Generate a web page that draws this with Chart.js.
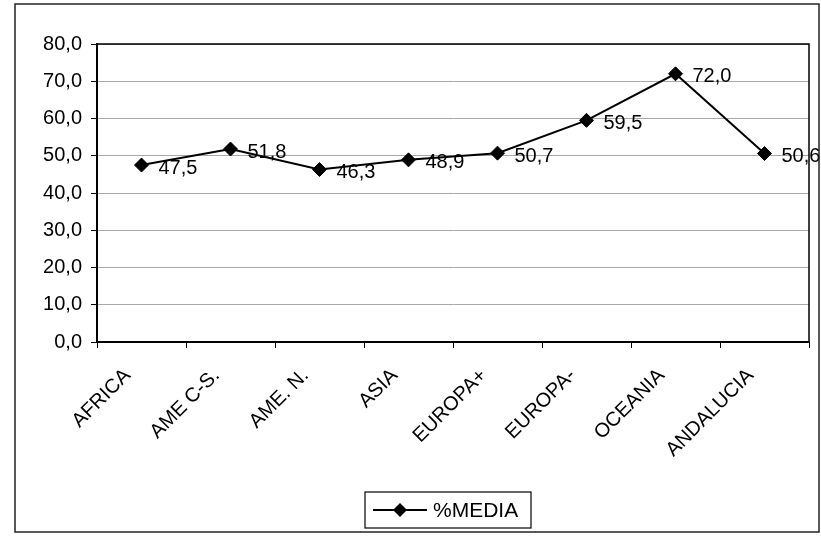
<!DOCTYPE html>
<html>
<head>
<meta charset="utf-8">
<script src="https://cdn.jsdelivr.net/npm/chart.js@4.4.0/dist/chart.umd.min.js"></script>
<style>
  html, body { margin: 0; padding: 0; background: #fff; }
  #wrap { width: 821px; height: 537px; }
</style>
</head>
<body>
<div id="wrap"><canvas id="chart" width="821" height="537"></canvas></div>
<script>
const categories = ["AFRICA", "AME C-S.", "AME. N.", "ASIA", "EUROPA+", "EUROPA-", "OCEANIA", "ANDALUCIA"];
const mediaValues = [47.5, 51.8, 46.3, 48.9, 50.7, 59.5, 72.0, 50.6];
const seriesLabel = "%MEDIA";
const yMin = 0, yMax = 80, yStep = 10;

const fmt = v => Number(v).toFixed(1).replace(".", ",");

// diamond marker, same shape for points and legend
function diamond(ctx, x, y, r) {
    ctx.beginPath();
    ctx.moveTo(x - r, y);
    ctx.lineTo(x, y - r);
    ctx.lineTo(x + r, y);
    ctx.lineTo(x, y + r);
    ctx.closePath();
    ctx.fill();
}

const framePlugin = {
    id: "frame",
    afterDraw(chart) {
        const ctx = chart.ctx;
        const a = chart.chartArea;
        ctx.save();

        // plot area box
        ctx.strokeStyle = "#000";
        ctx.lineWidth = 1.5;
        ctx.strokeRect(a.left, a.top, a.right - a.left, a.bottom - a.top);

        // value labels to the right of each point
        const meta = chart.getDatasetMeta(0);
        ctx.font = "20px Arial";
        ctx.fillStyle = "#000";
        ctx.textAlign = "left";
        ctx.textBaseline = "middle";
        meta.data.forEach((pt, i) => {
            ctx.fillText(fmt(mediaValues[i]), pt.x + 17, pt.y + 3);
        });

        // legend box
        const lx = 365, ly = 492, lw = 166, lh = 36;
        ctx.lineWidth = 1.2;
        ctx.strokeRect(lx, ly, lw, lh);
        const cy = ly + lh / 2;
        ctx.lineWidth = 2;
        ctx.beginPath();
        ctx.moveTo(lx + 8, cy);
        ctx.lineTo(lx + 62, cy);
        ctx.stroke();
        diamond(ctx, lx + 35, cy, 7);
        ctx.font = "21px Arial";
        ctx.fillText(chart.data.datasets[0].label, lx + 68, cy + 1);

        // outer chart frame
        ctx.lineWidth = 1.5;
        ctx.strokeStyle = "#222";
        ctx.strokeRect(15, 4, 804, 528);
        ctx.restore();
    }
};

new Chart(document.getElementById("chart").getContext("2d"), {
    type: "line",
    data: {
        labels: categories,
        datasets: [{
            label: seriesLabel,
            data: mediaValues,
            borderColor: "#000",
            borderWidth: 2,
            backgroundColor: "#000",
            pointStyle: "rectRot",
            pointRadius: 7,
            pointBorderWidth: 1,
            pointBorderColor: "#000",
            pointBackgroundColor: "#000",
            tension: 0,
            fill: false
        }]
    },
    options: {
        responsive: false,
        animation: false,
        devicePixelRatio: 1,
        layout: { padding: { top: 44, right: 12, left: 0, bottom: 65 } },
        plugins: {
            legend: { display: false },
            tooltip: { enabled: false }
        },
        scales: {
            x: {
                offset: true,
                grid: {
                    offset: true,
                    drawOnChartArea: false,
                    drawTicks: true,
                    tickLength: 6,
                    color: "#000"
                },
                border: { color: "#000", width: 2 },
                ticks: {
                    color: "#000",
                    font: { family: "Arial", size: 20 },
                    minRotation: 45,
                    maxRotation: 45,
                    padding: 16,
                    labelOffset: -14,
                    autoSkip: false
                },
                afterFit(scale) { scale.height = 130; }
            },
            y: {
                min: yMin,
                max: yMax,
                grid: {
                    color: "#a8a8a8",
                    lineWidth: 1,
                    tickLength: 6,
                    tickColor: "#000"
                },
                border: { color: "#000", width: 2 },
                ticks: {
                    stepSize: yStep,
                    color: "#000",
                    font: { family: "Arial", size: 20 },
                    padding: 9,
                    callback: v => fmt(v)
                },
                afterFit(scale) { scale.width = 97; }
            }
        }
    },
    plugins: [framePlugin]
});
</script>
</body>
</html>
